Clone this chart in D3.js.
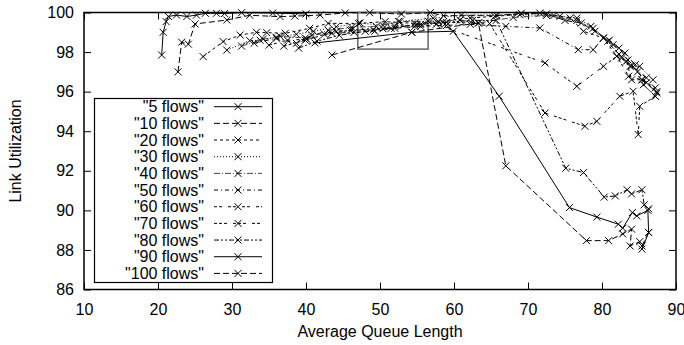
<!DOCTYPE html>
<html><head><meta charset="utf-8">
<script src="https://cdn.jsdelivr.net/npm/d3@7"></script>
<style>body{margin:0;background:#fff;} svg{display:block;font-family:"Liberation Sans",Arial,Helvetica,sans-serif;}</style>
</head><body><svg id="c" width="684" height="345"></svg>
<script>
const xTicks = [10,20,30,40,50,60,70,80,90];
const yTicks = [86,88,90,92,94,96,98,100];
const seriesLabels = ['"5 flows"','"10 flows"','"20 flows"','"30 flows"','"40 flows"','"50 flows"','"60 flows"','"70 flows"','"80 flows"','"90 flows"','"100 flows"'];
const flows5 = [[20.5,97.85],[20.7,99.0],[21.1,99.54],[21.4,99.8],[22.5,99.87],[23.9,99.8],[25.2,99.87],[26.4,99.96],[27.9,99.96],[29.0,99.95],[31.3,99.99],[35.5,99.97],[40.0,99.93]];
const flows10 = [[22.7,97.0],[23.2,98.5],[24.1,98.4],[25.0,99.42],[29.3,99.62],[32.4,99.86],[36.5,99.79],[38.5,99.82],[41.9,99.87],[45.3,99.98],[48.6,99.99],[52.9,99.92],[56.8,99.99],[58.6,99.84],[65.8,99.84],[69.1,99.96],[72.5,99.93],[75.0,99.6],[77.2,99.47],[79.05,99.05],[81.0,98.6],[82.3,98.2],[83.5,97.6],[84.8,97.0],[86.0,96.45],[87.4,95.93]];
const flows20 = [[26.1,97.77],[28.8,98.53],[31.1,98.86],[33.3,99.0],[34.7,98.98],[37.2,98.95],[40.5,99.2],[43.0,99.45],[47.1,99.45],[50.7,99.54],[54.7,99.45],[57.9,99.54],[62.2,99.72],[65.5,99.81],[71.6,99.97],[74.3,99.81],[75.7,99.72],[77.5,99.05],[80.2,98.71],[82.0,97.79],[83.3,97.54],[84.0,96.6],[85.4,96.6],[87.2,96.19]];
const flows30 = [[29.3,98.1],[32.4,98.58],[33.8,98.6],[36.0,98.75],[38.7,98.9],[41.0,99.05],[44.1,99.28],[47.3,99.47],[50.4,99.35],[52.5,99.55],[57.2,99.71],[61.0,99.87],[68.9,99.89],[73.5,99.85],[76.6,99.72],[78.5,99.3],[80.8,98.55],[82.65,97.7],[83.8,97.28],[85.1,97.28],[86.9,96.6]];
const flows40 = [[31.3,98.3],[34.2,98.65],[36.5,98.8],[39.9,98.71],[43.0,99.1],[46.2,99.25],[49.5,99.3],[52.7,99.54],[56.5,99.56],[60.8,99.62],[63.3,99.47],[68.0,99.75],[72.5,99.85],[76.6,99.6],[78.8,99.2],[81.5,98.37],[83.1,97.95],[84.5,97.36],[85.6,96.35],[87.2,95.77]];
const flows50 = [[33.0,98.45],[36.0,98.7],[38.7,98.44],[40.8,98.85],[44.1,99.05],[46.2,99.13],[50.4,99.18],[54.7,99.3],[59.0,99.35],[62.2,99.4],[67.0,99.3],[71.6,99.22],[76.8,98.12],[78.8,98.12],[80.2,98.71],[82.3,97.9],[84.0,97.3],[86.0,96.7]];
const flows60 = [[35.0,98.35],[37.5,98.6],[40.1,98.65],[43.5,98.95],[46.5,99.0],[49.3,99.05],[52.0,99.2],[55.5,99.3],[57.6,99.4],[72.3,97.45],[76.6,96.27],[80.2,97.28],[82.0,97.79],[83.6,96.78],[85.4,96.6],[87.4,96.0]];
const flows70 = [[37.0,98.3],[39.9,98.6],[42.5,98.9],[46.0,99.1],[49.1,99.12],[52.0,99.3],[55.5,99.4],[59.0,99.5],[64.8,99.45],[72.3,94.92],[77.7,94.25],[79.3,94.5],[82.4,95.77],[84.2,96.02],[84.9,93.83],[85.1,95.26],[87.2,95.77]];
const flows80 = [[39.0,98.2],[41.5,98.55],[44.5,98.85],[48.0,99.05],[51.5,99.2],[55.0,99.4],[58.5,99.5],[62.5,99.6],[65.7,99.6],[75.1,92.13],[77.5,91.91],[80.3,90.67],[81.8,90.73],[83.4,91.04],[84.0,90.83],[85.4,91.04],[85.7,90.28],[86.3,90.08]];
const flows90 = [[41.2,98.46],[54.3,99.0],[59.9,99.05],[66.1,95.77],[75.6,90.14],[79.3,89.66],[82.2,89.3],[82.8,89.1],[84.1,89.89],[84.7,89.72],[86.2,90.0],[86.3,88.88],[85.4,88.04]];
const flows100 = [[43.5,97.85],[54.3,99.0],[63.3,99.47],[67.0,92.25],[77.9,88.47],[80.9,88.47],[82.8,88.81],[84.0,89.05],[83.8,88.2],[85.1,88.42],[85.4,88.2],[86.3,88.88]];
const zoomBoxX = [47.0,56.5];
const zoomBoxY = [98.15,100];

const allSeries = [flows5,flows10,flows20,flows30,flows40,flows50,flows60,flows70,flows80,flows90,flows100];
const dashes = [null,"6,3","3,3","1,2","6,2,1,2","4,3,1,3","3,2,3,6","3,2,3,2,3,6","5,2,2,2,2,2",null,"6,3"];
const strokes = ["#000","#000","#000","#000","#444","#000","#000","#000","#000","#000","#000"];

const svg = d3.select("#c");
const L=84, R=676, T=12.5, B=289.5;
const x = d3.scaleLinear().domain([10,90]).range([L,R]);
const y = d3.scaleLinear().domain([86,100]).range([B,T]);
const fs = "16px";

// axes
const gx = svg.append("g").attr("transform",`translate(0,${B})`)
  .call(d3.axisBottom(x).tickValues(xTicks).tickSize(-7).tickPadding(14).tickFormat(d3.format("d")));
const gxt = svg.append("g").attr("transform",`translate(0,${T})`)
  .call(d3.axisTop(x).tickValues(xTicks).tickSize(-7).tickFormat(""));
const gy = svg.append("g").attr("transform",`translate(${L},0)`)
  .call(d3.axisLeft(y).tickValues(yTicks).tickSize(-7).tickPadding(10).tickFormat(d3.format("d")));
const gyr = svg.append("g").attr("transform",`translate(${R},0)`)
  .call(d3.axisRight(y).tickValues(yTicks).tickSize(-7).tickFormat(""));
[gx,gxt,gy,gyr].forEach(g=>{
  g.select(".domain").remove();
  g.selectAll("line").attr("stroke","#000").attr("stroke-width",1);
  g.selectAll("text").attr("font-size",fs).attr("font-family","Liberation Sans, Arial, sans-serif").attr("fill","#000");
});

svg.append("rect").attr("x",L).attr("y",T).attr("width",R-L).attr("height",B-T)
  .attr("fill","none").attr("stroke","#000").attr("stroke-width",1.5);

// titles
svg.append("text").attr("x",(L+R)/2).attr("y",337).attr("text-anchor","middle").attr("font-size",fs).text("Average Queue Length");
svg.append("text").attr("transform",`translate(21,${(T+B)/2}) rotate(-90)`).attr("text-anchor","middle").attr("font-size",fs).text("Link Utilization");

// zoom rectangle
svg.append("rect").attr("x",x(zoomBoxX[0])).attr("y",y(zoomBoxY[1])).attr("width",x(zoomBoxX[1])-x(zoomBoxX[0]))
  .attr("height",y(zoomBoxY[0])-y(zoomBoxY[1])).attr("fill","none").attr("stroke","#666").attr("stroke-width",1.5);

const line = d3.line().x(d=>x(d[0])).y(d=>y(d[1]));
const cross = "M-3.5,-3.5L3.5,3.5M-3.5,3.5L3.5,-3.5";

allSeries.forEach((s,i)=>{
  const g = svg.append("g");
  g.append("path").attr("d",line(s)).attr("fill","none").attr("stroke",strokes[i]).attr("stroke-width",1)
    .attr("stroke-dasharray",dashes[i]);
  g.selectAll("path.m").data(s).join("path").attr("class","m")
    .attr("transform",d=>`translate(${x(d[0])},${y(d[1])})`).attr("d",cross)
    .attr("stroke","#000").attr("stroke-width",1).attr("fill","none");
});

// legend
const lg = svg.append("g");
lg.append("rect").attr("x",94.5).attr("y",98.5).attr("width",178).attr("height",184)
  .attr("fill","#fff").attr("stroke","#000").attr("stroke-width",1.2);
seriesLabels.forEach((lab,i)=>{
  const cy = 106.7 + i*16.67;
  lg.append("text").attr("x",204).attr("y",cy).attr("dy","0.36em").attr("text-anchor","end").attr("font-size",fs).text(lab);
  lg.append("line").attr("x1",214).attr("x2",262).attr("y1",cy).attr("y2",cy)
    .attr("stroke",strokes[i]).attr("stroke-width",1).attr("stroke-dasharray",dashes[i]);
  lg.append("path").attr("transform",`translate(238,${cy})`).attr("d",cross).attr("stroke","#000").attr("fill","none");
});
</script>
</body></html>
